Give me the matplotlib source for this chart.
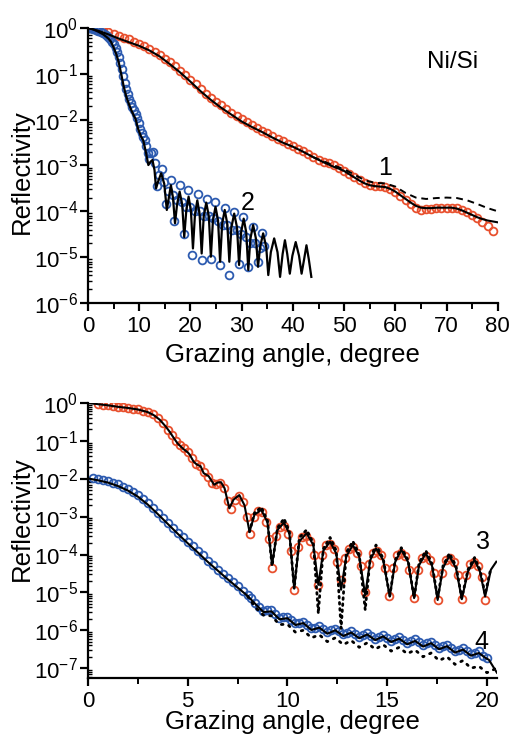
import numpy as np
import matplotlib
matplotlib.use("Agg")
import matplotlib.pyplot as plt
from matplotlib.ticker import LogLocator, MultipleLocator, NullFormatter

plt.rcParams['font.family'] = ['Liberation Sans', 'DejaVu Sans']
plt.rcParams['mathtext.fontset'] = 'custom'
plt.rcParams['mathtext.rm'] = 'Liberation Sans'
plt.rcParams['mathtext.it'] = 'Liberation Sans:italic'

red = '#e8502e'
blue = '#2d5bb0'

# ---- Ni/Si, top panel (log10 reflectivity) ----
# curve 1: measured
x1 = list(range(1, 80))
lg1 = [-0.01, -0.03, -0.06, -0.09, -0.13, -0.17, -0.21, -0.25, -0.30, -0.35,
       -0.40, -0.46, -0.53, -0.60, -0.67, -0.75, -0.84, -0.93, -1.03, -1.13,
       -1.23, -1.33, -1.43, -1.52, -1.61, -1.69, -1.77, -1.85, -1.92, -1.99,
       -2.06, -2.12, -2.18, -2.24, -2.30, -2.36, -2.42, -2.47, -2.53, -2.58,
       -2.64, -2.69, -2.75, -2.81, -2.87, -2.92, -2.95, -2.99, -3.05, -3.11,
       -3.18, -3.25, -3.32, -3.38, -3.42, -3.44, -3.45, -3.47, -3.52, -3.58,
       -3.66, -3.75, -3.84, -3.92, -3.96, -3.95, -3.94, -3.93, -3.92, -3.92,
       -3.92, -3.93, -3.97, -4.02, -4.08, -4.15, -4.24, -4.33, -4.42]
# curve 1: fit
x1f = [0, 2, 4, 6, 8, 10, 12, 14, 16, 18, 20, 22, 24, 26, 28, 30, 32, 34, 36, 38,
       40, 42, 44, 46, 47, 48, 49, 50, 51, 52, 53, 54, 55, 56, 57, 58, 59, 60,
       61, 62, 63, 64, 65, 66, 67, 68, 69, 70, 71, 72, 73, 74, 75, 76, 77, 78, 79, 80]
lg1f = [0, -0.06, -0.14, -0.23, -0.31, -0.39, -0.49, -0.62, -0.79, -0.97,
        -1.17, -1.38, -1.57, -1.74, -1.89, -2.04, -2.16, -2.27, -2.39, -2.50,
        -2.59, -2.70, -2.82, -2.93, -2.98, -3.03, -3.07, -3.12, -3.19, -3.26,
        -3.33, -3.39, -3.43, -3.45, -3.46, -3.47, -3.51, -3.57, -3.65, -3.73,
        -3.81, -3.88, -3.92, -3.93, -3.93, -3.92, -3.92, -3.92, -3.92, -3.94,
        -3.98, -4.03, -4.08, -4.13, -4.17, -4.20, -4.22, -4.24]
# curve 1: second model (dashed)
x1d = [44, 46, 48, 50, 52, 54, 56, 58, 60, 62, 64, 66, 68, 70, 72, 74, 76, 78, 80]
lg1d = [-2.82, -2.91, -3.00, -3.08, -3.20, -3.32, -3.38, -3.39, -3.46, -3.60,
        -3.70, -3.73, -3.71, -3.70, -3.71, -3.76, -3.84, -3.93, -4.00]

# curve 2: measured
x2 = [0, 0.5, 1, 1.5, 2, 2.5, 3, 3.5, 4, 4.4, 4.8, 5.1, 5.4, 5.7, 6.0, 6.3, 6.6,
      6.9, 7.2, 7.5, 7.8, 8.1, 8.4, 8.7, 9.0, 9.3, 9.6, 9.9, 10.2, 10.5, 10.8,
      11.1, 11.4, 11.7,
      12.0, 12.4, 12.8, 13.1, 13.4, 13.8, 14.4, 14.9, 15.3, 15.7, 16.2, 16.6, 16.9,
      17.4, 17.9, 18.3, 18.7, 19.1, 19.6, 20.0, 20.4, 20.9, 21.4, 21.8, 22.2,
      22.7, 23.2, 23.6, 24.0, 24.5, 24.9, 25.4, 25.8, 26.3, 26.7, 27.2, 27.6,
      28.1, 28.5, 29.0, 29.5, 29.9, 30.3, 30.8, 31.3, 31.7, 32.2, 32.7, 33.2,
      33.6, 34.0, 34.4]
lg2 = [0, -0.01, -0.02, -0.04, -0.06, -0.09, -0.12, -0.15, -0.19, -0.24, -0.30,
       -0.36, -0.44, -0.53, -0.63, -0.76, -0.90, -1.05, -1.20, -1.33, -1.45,
       -1.55, -1.64, -1.72, -1.80, -1.87, -1.97, -2.08, -2.20, -2.30, -2.37,
       -2.45, -2.58, -2.72,
       -2.85, -2.72, -2.70, -2.95, -3.45, -3.20, -3.08, -3.35, -3.85, -3.55,
       -3.32, -3.65, -4.20, -3.75, -3.43, -3.80, -4.50, -3.90, -3.54, -3.90,
       -4.95, -4.00, -3.62, -4.00, -5.07, -4.10, -3.72, -4.10, -5.05, -4.15,
       -3.79, -4.20, -5.18, -4.30, -3.92, -4.30, -5.38, -4.40, -4.01, -4.40,
       -5.14, -4.50, -4.13, -4.55, -5.21, -4.70, -4.34, -4.70, -5.10, -4.80,
       -4.48, -4.75]
# curve 2: fit
x2f = [0, 1, 2, 3, 4, 4.5, 5, 5.5, 6, 6.5, 7, 7.5, 8, 8.5, 9, 9.3, 9.8, 10.3,
       10.8, 11.3, 11.8, 12.2, 12.6, 13.0, 13.3,
       13.7, 14.3, 14.9, 15.4, 15.8, 16.2, 16.6, 17.0, 17.4, 17.9, 18.4, 18.8,
       19.2, 19.65, 20.1, 20.5, 20.9, 21.35, 21.8, 22.2, 22.6, 23.1, 23.6, 24.0,
       24.4, 24.9, 25.4, 25.8, 26.2, 26.7, 27.2, 27.6, 28.0, 28.55, 29.1, 29.5,
       29.9, 30.4, 30.9, 31.3, 31.7, 32.25, 32.8, 33.2, 33.6, 34.2, 34.8, 35.2,
       35.7, 36.35, 37.0, 37.5, 38.0, 38.45, 38.9, 39.4, 39.9, 40.55, 41.2, 41.7,
       42.2, 42.65, 43.1, 43.6]
lg2f = [0, -0.03, -0.08, -0.14, -0.23, -0.30, -0.42, -0.56, -0.74, -1.00, -1.28,
        -1.50, -1.66, -1.80, -1.92, -1.98, -2.20, -2.35, -2.45, -2.70, -2.99,
        -2.92, -2.88, -3.10, -3.50,
        -3.35, -3.17, -3.40, -3.97, -3.70, -3.43, -3.70, -4.26, -3.85, -3.57,
        -3.85, -4.56, -3.98, -3.68, -3.98, -4.81, -4.06, -3.76, -4.06, -4.92,
        -4.11, -3.81, -4.11, -4.99, -4.20, -3.90, -4.20, -5.10, -4.27, -3.97,
        -4.27, -5.10, -4.35, -4.05, -4.35, -5.17, -4.46, -4.16, -4.46, -5.28,
        -4.60, -4.30, -4.60, -5.21, -4.78, -4.48, -4.78, -5.39, -4.89, -4.59,
        -4.89, -5.43, -4.93, -4.63, -4.93, -5.36, -4.97, -4.67, -4.97, -5.36,
        -5.04, -4.74, -5.04, -5.43]

# ---- bottom panel ----
# curve 3: measured
x3 = [0.5, 0.75, 1.0, 1.25, 1.5, 1.75, 2.0, 2.25, 2.5, 2.75, 3.0, 3.25, 3.5,
      3.75, 4.0, 4.2, 4.4, 4.6, 4.8, 5.0, 5.2, 5.4, 5.6, 5.8, 6.0, 6.2, 6.4,
      6.6, 6.8, 7.0, 7.15, 7.35, 7.55, 7.75, 7.95, 8.15, 8.35, 8.55, 8.75,
      8.95, 9.1, 9.25, 9.45, 9.65, 9.85, 10.05, 10.2, 10.35, 10.55, 10.75,
      10.95, 11.15, 11.35, 11.55, 11.75, 11.95, 12.15, 12.35, 12.5, 12.7, 12.9,
      13.1, 13.3, 13.5, 13.7, 13.9, 14.1, 14.3, 14.5, 14.7, 14.9, 15.1, 15.3,
      15.5, 15.7, 15.9, 16.1, 16.35, 16.55, 16.75, 16.95, 17.15, 17.35, 17.55,
      17.75, 17.95, 18.15, 18.35, 18.55, 18.75, 18.95, 19.15, 19.35, 19.55,
      19.75, 19.92]
lg3 = [-0.03, -0.04, -0.06, -0.08, -0.10, -0.11, -0.13, -0.15, -0.17, -0.20,
       -0.24, -0.30, -0.40, -0.54, -0.70, -0.84, -1.00, -1.12, -1.20, -1.28,
       -1.45, -1.60, -1.65, -1.82, -1.95, -2.12, -2.15, -2.10, -2.25, -2.60,
       -2.80, -2.55, -2.45, -2.62, -3.00, -3.45, -3.00, -2.85, -2.88, -3.15,
       -3.60, -4.36, -3.50, -3.28, -3.25, -3.45, -3.90, -4.93, -3.80, -3.55,
       -3.50, -3.65, -4.00, -4.80, -4.00, -3.75, -3.72, -3.85, -4.20, -4.67,
       -4.10, -3.85, -3.80, -3.95, -4.30, -4.98, -4.25, -3.95, -3.90, -4.00,
       -4.35, -5.10, -4.35, -4.00, -3.95, -4.05, -4.40, -5.15, -4.40, -4.08,
       -4.03, -4.15, -4.50, -5.20, -4.50, -4.15, -4.10, -4.20, -4.55, -5.18,
       -4.55, -4.25, -4.20, -4.30, -4.60, -5.20]
# curve 3: fit
x3f = [0, 0.5, 1, 1.5, 2, 2.5, 3, 3.3, 3.6, 3.9, 4.1, 4.3, 4.5, 4.8, 5.0, 5.1,
       5.3, 5.45, 5.65, 5.8, 5.95, 6.05, 6.33, 6.5, 6.67, 6.85, 7.09, 7.3, 7.59,
       7.85, 8.1, 8.35, 8.69, 9.0, 9.23, 9.5, 9.83, 10.1, 10.34, 10.6, 10.96,
       11.3, 11.55, 11.8, 12.14, 12.45, 12.69, 12.95, 13.28, 13.6, 13.9, 14.15,
       14.44, 14.8, 15.13, 15.4, 15.71, 16.05, 16.35, 16.6, 16.94, 17.25, 17.53,
       17.8, 18.12, 18.45, 18.74, 19.05, 19.38, 19.65, 19.91, 20.2, 20.47]
lg3f = [0, -0.03, -0.06, -0.10, -0.13, -0.17, -0.24, -0.32, -0.44, -0.62, -0.76,
        -0.92, -1.07, -1.22, -1.30, -1.36, -1.55, -1.62, -1.67, -1.85, -1.90,
        -1.93, -2.16, -2.10, -2.09, -2.25, -2.78, -2.55, -2.43, -2.70, -3.40,
        -2.95, -2.82, -3.15, -4.27, -3.35, -3.16, -3.45, -4.89, -3.65, -3.44,
        -3.75, -4.80, -3.90, -3.66, -3.98, -4.93, -4.05, -3.75, -4.06, -5.07,
        -4.15, -3.84, -4.15, -5.11, -4.20, -3.88, -4.20, -5.15, -4.28, -3.97,
        -4.30, -5.20, -4.35, -4.04, -4.36, -5.18, -4.45, -4.14, -4.45, -5.11,
        -4.40, -4.19]
# curve 3: second model (dotted)
x3d = [8.1, 8.35, 8.69, 9.0, 9.23, 9.5, 9.83, 10.1, 10.34, 10.6, 10.96, 11.3,
       11.55, 11.8, 12.14, 12.45, 12.69, 12.95, 13.28, 13.6, 13.9, 14.15, 14.44,
       14.8, 15.13, 15.4, 15.71, 16.05, 16.35, 16.6, 16.94, 17.25, 17.53, 17.8,
       18.12, 18.45, 18.74, 19.05, 19.38, 19.65, 19.91, 20.2]
lg3d = [-3.40, -2.90, -2.75, -3.10, -4.30, -3.30, -3.05, -3.40, -4.90, -3.55,
        -3.35, -3.70, -5.55, -3.85, -3.55, -3.90, -5.95, -3.95, -3.65, -4.00,
        -5.46, -4.10, -3.75, -4.10, -5.10, -4.15, -3.82, -4.15, -5.15, -4.22,
        -3.90, -4.25, -5.15, -4.30, -3.97, -4.30, -5.15, -4.40, -4.08, -4.40,
        -5.05, -4.35]

# curve 4: measured
x4 = [0.25, 0.5, 0.75, 1.0, 1.25, 1.5, 1.75, 2.0, 2.25, 2.5, 2.75, 3.0, 3.25,
      3.5, 3.75, 4.0, 4.25, 4.5, 4.75, 5.0, 5.25, 5.5, 5.75, 6.0, 6.25, 6.5,
      6.75, 7.0, 7.25, 7.5, 7.75, 8.0, 8.2,
      8.4, 8.6, 8.8, 9.0, 9.2, 9.4, 9.6, 9.8, 10.0, 10.2, 10.4, 10.6, 10.8,
      11.0, 11.2, 11.4, 11.6, 11.8, 12.0, 12.2, 12.4, 12.6, 12.8, 13.0, 13.2,
      13.4, 13.6, 13.8, 14.0, 14.2, 14.4, 14.6, 14.8, 15.0, 15.2, 15.4, 15.6,
      15.8, 16.0, 16.2, 16.4, 16.6, 16.8, 17.0, 17.2, 17.4, 17.6, 17.8, 18.0,
      18.2, 18.4, 18.6, 18.8, 19.0, 19.2, 19.4, 19.6, 19.8, 20.0]
lg4 = [-1.97, -2.00, -2.03, -2.06, -2.10, -2.15, -2.21, -2.28, -2.35, -2.44,
       -2.54, -2.65, -2.77, -2.90, -3.03, -3.16, -3.29, -3.42, -3.54, -3.66,
       -3.78, -3.90, -4.02, -4.17, -4.28, -4.40, -4.51, -4.62, -4.73, -4.84,
       -4.95, -5.06, -5.16,
       -5.27, -5.38, -5.48, -5.47, -5.46, -5.56, -5.67, -5.66, -5.64, -5.73,
       -5.82, -5.80, -5.77, -5.86, -5.95, -5.93, -5.89, -5.97, -6.05, -6.00,
       -5.96, -6.03, -6.11, -6.07, -6.02, -6.09, -6.17, -6.12, -6.07, -6.14,
       -6.22, -6.17, -6.12, -6.20, -6.27, -6.23, -6.18, -6.26, -6.33, -6.28,
       -6.24, -6.31, -6.39, -6.34, -6.30, -6.38, -6.46, -6.42, -6.38, -6.46,
       -6.55, -6.51, -6.47, -6.55, -6.63, -6.59, -6.56, -6.67, -6.72]
# curve 4: fit
x4f = [0, 0.5, 1, 1.5, 2, 2.5, 3, 3.5, 4, 4.5, 5, 5.5, 6, 6.5, 7, 7.5, 8,
       8.4, 8.8, 9.2, 9.6, 10.0, 10.4, 10.8, 11.2, 11.6, 12.0, 12.4, 12.8, 13.2,
       13.6, 14.0, 14.4, 14.8, 15.2, 15.6, 16.0, 16.4, 16.8, 17.2, 17.6, 18.0,
       18.4, 18.8, 19.2, 19.6, 19.9, 20.1, 20.3, 20.5]
lg4f = [-1.99, -2.04, -2.10, -2.19, -2.31, -2.47, -2.68, -2.93, -3.19, -3.45,
        -3.70, -3.94, -4.19, -4.42, -4.65, -4.87, -5.09,
        -5.31, -5.52, -5.50, -5.71, -5.68, -5.86, -5.81, -5.99, -5.93, -6.09,
        -6.00, -6.15, -6.06, -6.21, -6.11, -6.26, -6.16, -6.31, -6.22, -6.37,
        -6.28, -6.43, -6.34, -6.50, -6.42, -6.59, -6.51, -6.67, -6.60, -6.72,
        -6.78, -6.95, -7.12]
# curve 4: second model (dotted)
x4d = [8.0, 8.4, 8.8, 9.2, 9.6, 10.0, 10.4, 10.8, 11.2, 11.6, 12.0, 12.4, 12.8,
       13.2, 13.6, 14.0, 14.4, 14.8, 15.2, 15.6, 16.0, 16.4, 16.8, 17.2, 17.6,
       18.0, 18.4, 18.8, 19.2, 19.6, 20.0, 20.3, 20.5]
lg4d = [-5.10, -5.40, -5.60, -5.62, -5.85, -5.84, -6.05, -6.00, -6.20, -6.12,
        -6.30, -6.20, -6.38, -6.27, -6.45, -6.33, -6.50, -6.38, -6.55, -6.45,
        -6.62, -6.52, -6.70, -6.60, -6.80, -6.70, -6.90, -6.80, -7.00, -6.95,
        -7.12, -7.05, -6.98]

# decades labelled on each y axis
top_decades = [0, -1, -2, -3, -4, -5, -6]
bottom_decades = [0, -1, -2, -3, -4, -5, -6, -7]


def R(lg):
    return 10.0 ** np.asarray(lg)


def circles(ax, x, lg, color):
    ax.plot(x, R(lg), 'o', ms=5.6, mfc='none', mec=color, mew=1.3, zorder=2)


def style_axis(ax, xmax, xmajor, ymin, decades, ylab_y, xpad):
    ax.set_yscale('log')
    ax.set_xlim(0, xmax)
    ax.set_ylim(ymin, 1)
    for s in ['top', 'right']:
        ax.spines[s].set_visible(False)
    for s in ['left', 'bottom']:
        ax.spines[s].set_linewidth(1.6)
    ax.xaxis.set_major_locator(MultipleLocator(xmajor))
    ax.xaxis.set_minor_locator(MultipleLocator(xmajor / 2))
    ax.set_yticks(R(decades))
    ax.set_yticklabels([r'$10^{%d}$' % d for d in decades])
    ax.yaxis.set_minor_locator(LogLocator(base=10, subs=np.arange(2, 10), numticks=20))
    ax.yaxis.set_minor_formatter(NullFormatter())
    ax.tick_params(axis='both', which='major', direction='out', length=6,
                   width=1.6, pad=3)
    ax.tick_params(axis='x', which='major', labelsize=16)
    ax.tick_params(axis='y', which='major', labelsize=16, pad=1)
    ax.tick_params(axis='x', which='minor', direction='out', length=4, width=1.4)
    ax.tick_params(axis='y', which='minor', direction='in', length=3, width=1.0)
    ax.set_xlabel('Grazing angle, degree', fontsize=18.5, labelpad=xpad)
    ax.set_ylabel('Reflectivity', fontsize=18.5)
    ax.yaxis.set_label_coords(-0.132, ylab_y)
    ax.set_ylim(ymin, 1)


fig = plt.figure(figsize=(5.11, 7.38), dpi=100)
ax1 = fig.add_axes([0.172, 0.5894, 0.8023, 0.3727])
ax2 = fig.add_axes([0.172, 0.0813, 0.8004, 0.3726])

# top panel
circles(ax1, x1, lg1, red)
circles(ax1, x2, lg2, blue)
ax1.plot(x1d, R(lg1d), color='black', lw=1.4, ls=(0, (3.5, 2.5)), zorder=3)
ax1.plot(x1f, R(lg1f), color='black', lw=1.5, zorder=4)
ax1.plot(x2f, R(lg2f), color='black', lw=1.6, zorder=4)
style_axis(ax1, 80, 10, 1e-6, top_decades, 0.477, 5)
ax1.text(71.2, 10 ** -0.74, 'Ni/Si', fontsize=17.5, ha='center', va='center')
ax1.text(58, 10 ** -3.06, '1', fontsize=18, ha='center', va='center')
ax1.text(31.1, 10 ** -3.81, '2', fontsize=18, ha='center', va='center')

# bottom panel
circles(ax2, x3, lg3, red)
circles(ax2, x4, lg4, blue)
ax2.plot(x3d, R(lg3d), color='black', lw=2.0, ls=(0, (0.6, 1.6)),
         dash_capstyle='round', zorder=3)
ax2.plot(x4d, R(lg4d), color='black', lw=2.0, ls=(0, (0.6, 2.2)),
         dash_capstyle='round', zorder=3)
ax2.plot(x3f, R(lg3f), color='black', lw=1.5, zorder=4)
ax2.plot(x4f, R(lg4f), color='black', lw=1.5, zorder=4)
style_axis(ax2, 20.5, 5, 10 ** -7.26, bottom_decades, 0.578, -1)
ax2.text(19.8, 10 ** -3.68, '3', fontsize=18, ha='center', va='center')
ax2.text(19.7, 10 ** -6.3, '4', fontsize=18, ha='center', va='center')

fig.savefig('out.png', dpi=100)
